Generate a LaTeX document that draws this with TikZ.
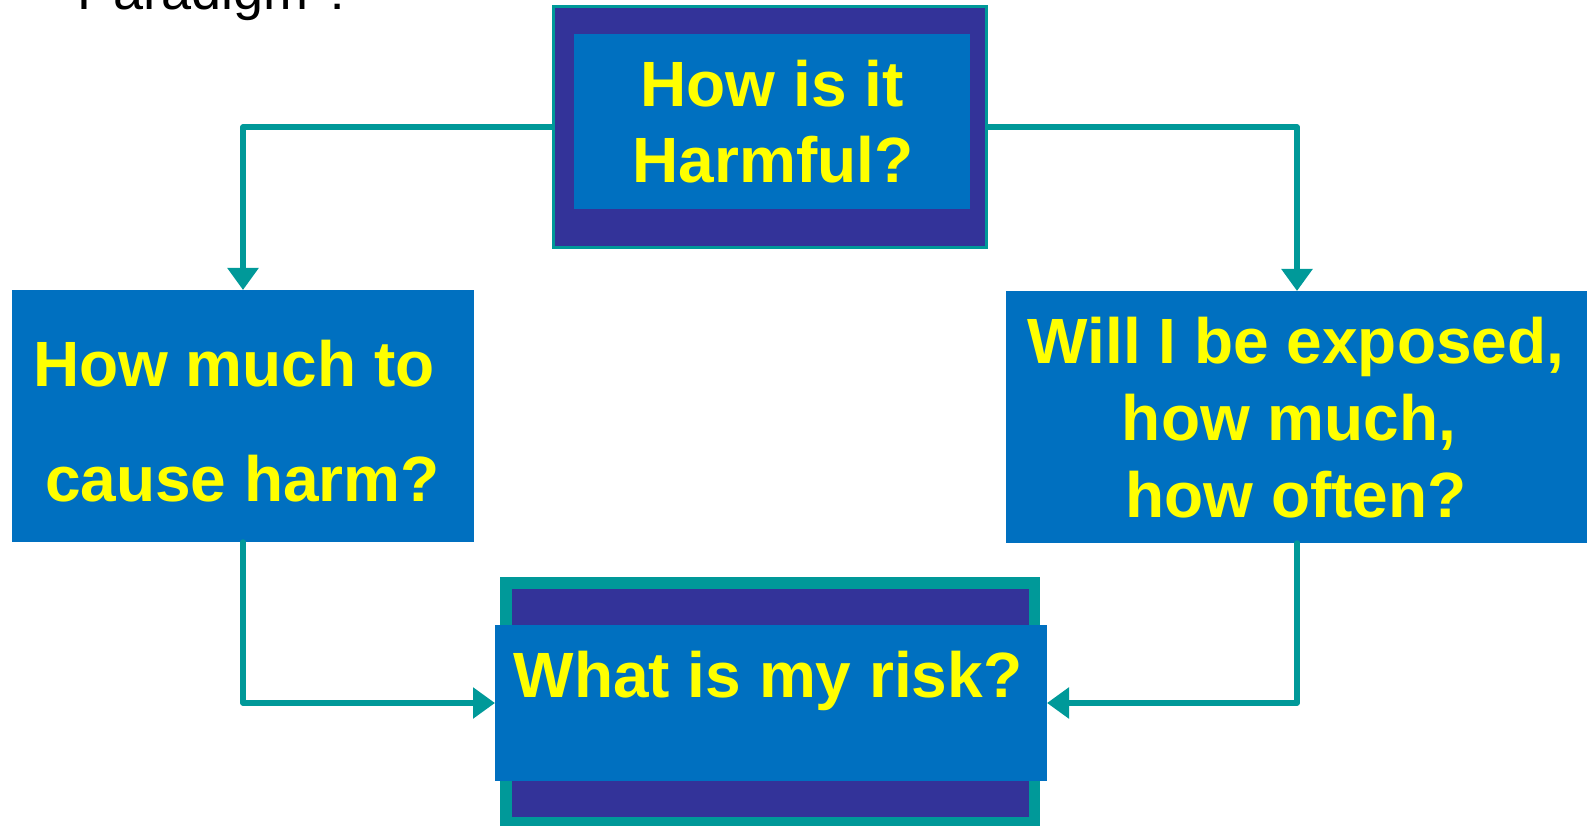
\documentclass[tikz,border=0pt]{standalone}
\usepackage{fontspec}
\setmainfont{Liberation Sans}
\usetikzlibrary{arrows.meta}
\definecolor{teal1}{HTML}{009999}
\definecolor{navy1}{HTML}{333399}
\definecolor{blue1}{HTML}{0070C0}
\definecolor{yel1}{HTML}{FFFF00}
\tikzset{
  box/.style={rectangle, inner sep=0pt, outer sep=0pt, draw=none},
  txt/.style={inner sep=0pt, outer sep=0pt, text=yel1, font=\fontsize{64}{77}\selectfont\bfseries},
  conn/.style={draw=teal1, line width=5.5pt, line join=round, line cap=round},
  tip/.style={-{Triangle[length=22pt,width=30pt]}}
}
\begin{document}
\begin{tikzpicture}[x=1pt,y=-1pt]
\useasboundingbox (0,0) rectangle (1587,826);
\clip (0,0) rectangle (1587,826);
\fill[white] (0,0) rectangle (1587,826);
% title (cut off at the top edge, as in the reference)
\node[inner sep=0pt, anchor=base west, font=\fontsize{54}{60}\selectfont] (title) at (77,10) {Paradigm ?};
% top box
\node[box, fill=teal1, minimum width=436pt, minimum height=244pt] (harmframe) at (770,127) {};
\node[box, fill=navy1, minimum width=430pt, minimum height=238pt] (harm) at (770,127) {};
\node[box, fill=blue1, minimum width=396pt, minimum height=175pt] (harmin) at (772,121.5) {};
\node[txt, anchor=base] (h1) at (772,107) {How is it};
\node[txt, anchor=base] (h2) at (773,183) {Harmful?};
% left box
\node[box, fill=blue1, minimum width=462pt, minimum height=252pt] (much) at (243,416) {};
\node[txt, anchor=base west] (m1) at (33,386) {How much to};
\node[txt, anchor=base west] (m2) at (45,501) {cause harm?};
% right box
\node[box, fill=blue1, minimum width=582pt, minimum height=252pt] (expo) at (1297,417) {};
\node[txt, anchor=base] (e1) at (1296,363) {Will I be exposed,};
\node[txt, anchor=base] (e2) at (1289,440) {how much,};
\node[txt, anchor=base] (e3) at (1296,517) {how often?};
% bottom box
\node[box, fill=teal1, minimum width=540pt, minimum height=260pt, anchor=north west] (riskframe) at (500,577) {};
\node[box, fill=navy1, minimum width=517pt, minimum height=228pt, anchor=north west] (riskdark) at (512,589) {};
\node[box, fill=blue1, minimum width=552pt, minimum height=156pt] (risk) at (771,703) {};
\node[txt, anchor=base] (r1) at (768,697) {What is my risk?};
% connectors
\draw[conn, tip] (harmframe.west) -| (much.north);
\draw[conn, tip] (harmframe.east) -| (expo.north);
\draw[conn, tip] (much.south) |- (risk.west);
\draw[conn, tip] (expo.south) |- (risk.east);
\end{tikzpicture}
\end{document}
